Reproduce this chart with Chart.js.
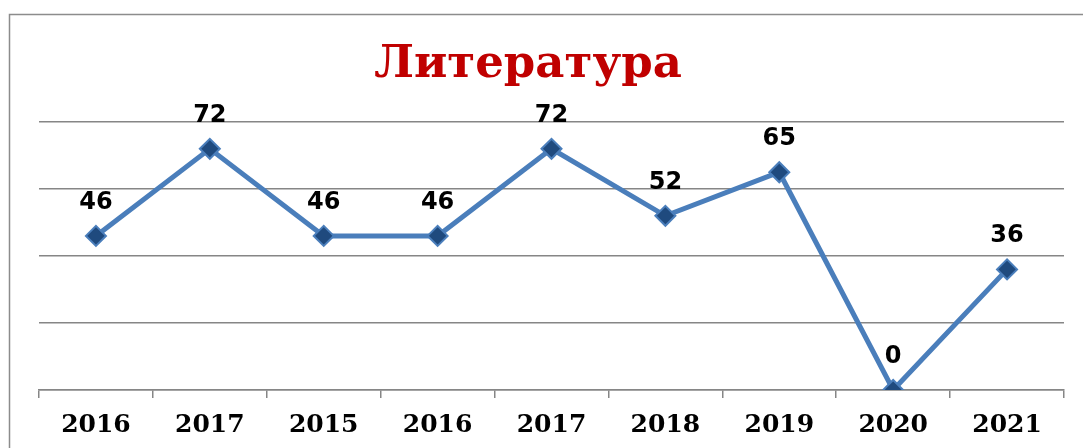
<!DOCTYPE html>
<html>
<head>
<meta charset="utf-8">
<script src="https://cdn.jsdelivr.net/npm/chart.js@4.4.1/dist/chart.umd.min.js"></script>
<style>
  html, body { margin: 0; padding: 0; background: #fff; overflow: hidden; }
  #wrap { width: 1083px; height: 448px; position: relative; }
</style>
</head>
<body>
<div id="wrap"><canvas id="myChart" width="1083" height="448"></canvas></div>
<script>
// chart data
const titleText = "Литература";
const categories = ["2016", "2017", "2015", "2016", "2017", "2018", "2019", "2020", "2021"];
const scores = [46, 72, 46, 46, 72, 52, 65, 0, 36];
const yTicks = [0, 20, 40, 60, 80];

// outer frame + title (title is offset left of the plot centre like the original)
const framePlugin = {
  id: "frameAndTitle",
  beforeDraw(chart) {
    const ctx = chart.ctx;
    ctx.save();
    ctx.fillStyle = "#fff";
    ctx.fillRect(0, 0, chart.width, chart.height);
    ctx.strokeStyle = "#8c8c8c";
    ctx.lineWidth = 1.5;
    ctx.strokeRect(9.5, 14.5, chart.width + 50, chart.height + 50);
    ctx.restore();
  },
  afterDraw(chart) {
    const ctx = chart.ctx;
    ctx.save();
    ctx.font = "bold 45px 'DejaVu Serif'";
    ctx.fillStyle = "#C00000";
    ctx.textAlign = "center";
    ctx.textBaseline = "alphabetic";
    ctx.fillText(titleText, 528, 77);
    ctx.restore();
  }
};

// value labels above each point
const valueLabels = {
  id: "valueLabels",
  afterDatasetsDraw(chart) {
    const ctx = chart.ctx;
    const meta = chart.getDatasetMeta(0);
    ctx.save();
    ctx.font = "bold 24px 'DejaVu Sans'";
    ctx.fillStyle = "#000";
    ctx.textAlign = "center";
    ctx.textBaseline = "alphabetic";
    meta.data.forEach((pt, i) => {
      ctx.fillText(String(scores[i]), pt.x, pt.y - 27);
    });
    ctx.restore();
  }
};

const ctx = document.getElementById("myChart").getContext("2d");
new Chart(ctx, {
  type: "line",
  data: {
    labels: categories,
    datasets: [{
      data: scores,
      borderColor: "#4A7EBB",
      borderWidth: 5,
      tension: 0,
      pointStyle: "rectRot",
      pointRadius: 10,
      pointHoverRadius: 10,
      pointBackgroundColor: "#1F4A7E",
      pointBorderColor: "#4A7EBB",
      pointBorderWidth: 2
    }]
  },
  options: {
    responsive: false,
    animation: false,
    devicePixelRatio: 1,
    layout: { padding: { left: 39, right: 19, top: 122, bottom: 8 } },
    plugins: {
      legend: { display: false },
      title: { display: false },
      tooltip: { enabled: false }
    },
    scales: {
      x: {
        offset: true,
        afterFit(scale) { scale.height = 50; },
        grid: {
          offset: true,
          drawOnChartArea: false,
          drawTicks: true,
          tickLength: 8,
          color: "#868686",
          lineWidth: 1.5
        },
        border: { display: true, color: "#868686", width: 1.5 },
        ticks: {
          padding: 12,
          color: "#000",
          font: { family: "DejaVu Serif", weight: "bold", size: 25 }
        }
      },
      y: {
        min: yTicks[0],
        max: yTicks[yTicks.length - 1],
        afterBuildTicks(scale) {
          scale.ticks = yTicks.map(v => ({ value: v }));
        },
        grid: { color: "#868686", lineWidth: 1.5, drawTicks: false },
        border: { display: false },
        ticks: { display: false }
      }
    }
  },
  plugins: [framePlugin, valueLabels]
});
</script>
</body>
</html>
